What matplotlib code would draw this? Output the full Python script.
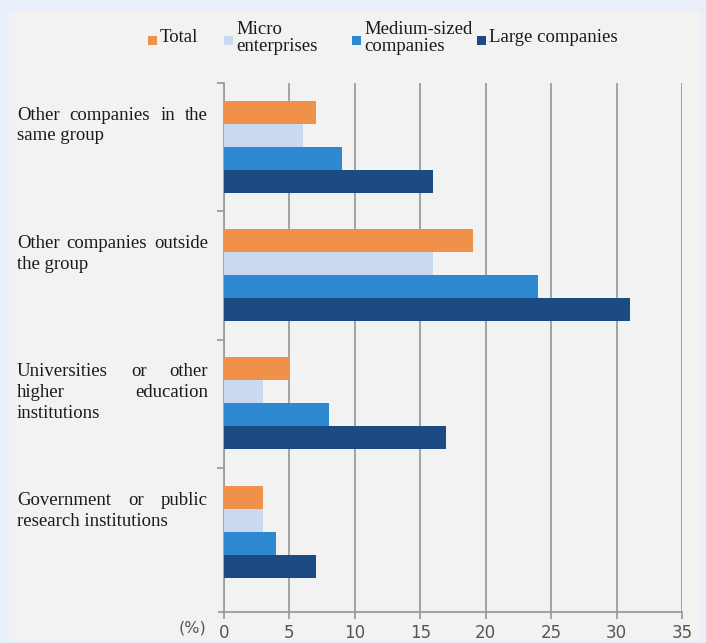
import numpy as np
import matplotlib
matplotlib.use("Agg")
import matplotlib.pyplot as plt
from matplotlib.patches import Rectangle

# data (percent)
categories = [
    ["Other companies in the", "same group"],
    ["Other companies outside", "the group"],
    ["Universities or other", "higher education", "institutions"],
    ["Government or public", "research institutions"],
]
series_names = ["Total", "Micro\nenterprises", "Medium-sized\ncompanies", "Large companies"]
total = [7, 19, 5, 3]
micro = [6, 16, 3, 3]
medium = [9, 24, 8, 4]
large = [16, 31, 17, 7]
xticks = [0, 5, 10, 15, 20, 25, 30, 35]

colors = ["#f0914a", "#c9d9ef", "#2f89d1", "#1c4a82"]

W, H = 706, 643
fig = plt.figure(figsize=(W / 100, H / 100), dpi=100)
fig.patch.set_facecolor("#e8effb")

    # grey inner panel, kept behind the axes
fig.patches.append(Rectangle((9 / W, 1 - 641 / H), 692 / W, 629 / H,
                             transform=fig.transFigure, facecolor="#f2f2f2",
                             edgecolor="none", zorder=-5))

serif = "Liberation Serif"
sans = ["DejaVu Sans Condensed", "Liberation Sans Narrow", "DejaVu Sans"]
fs = 13.5

def fx(px):
    return px / W

def fy(py):
    return 1 - py / H

ax = fig.add_axes([fx(224), fy(612), (682 - 224) / W, (612 - 83) / H])
ax.set_facecolor("none")

n = len(total)
bar_h = 0.179
start = 0.137
for k, vals in enumerate([total, micro, medium, large]):
    y = np.arange(n) + start + bar_h * (k + 0.5)
    ax.barh(y, vals, height=bar_h, color=colors[k], zorder=3)

ax.set_xlim(0, 35)
ax.set_ylim(4.12, 0)
ax.set_xticks(xticks)
ax.set_xticklabels([str(t) for t in xticks], family=sans, fontsize=12, color="#555555")
ax.set_yticks(range(n))
ax.set_yticklabels([])
ax.grid(axis="x", color="#9c9c9c", linewidth=1.3, zorder=1)
for s in ["top", "right"]:
    ax.spines[s].set_visible(False)
for s in ["left", "bottom"]:
    ax.spines[s].set_color("#9c9c9c")
    ax.spines[s].set_linewidth(1.3)
ax.spines["bottom"].set_bounds(-0.4, 35)
ax.tick_params(axis="x", length=5, width=1.3, color="#9c9c9c", pad=4)
ax.tick_params(axis="y", length=5, width=1.3, color="#9c9c9c")

fig.text(fx(193), fy(628), "(%)", family=sans, fontsize=11.5, color="#555555",
         ha="center", va="center")

    # justified category labels on the left
renderer = fig.canvas.get_renderer()
x0, x1 = 17, 208
for i, lines in enumerate(categories):
    top = 83 + i * 128.4
    for j, line in enumerate(lines):
        ypx = top + 32 + j * 21
        words = line.split()
        if j == len(lines) - 1 or len(words) == 1:
            fig.text(fx(x0), fy(ypx), line, family=serif, fontsize=fs,
                     color="#1a1a1a", va="center", ha="left")
            continue
        widths = []
        for w in words:
            t = fig.text(0, 0, w, family=serif, fontsize=fs)
            widths.append(t.get_window_extent(renderer).width)
            t.remove()
        gap = (x1 - x0 - sum(widths)) / (len(words) - 1)
        xp = x0
        for w, wd in zip(words, widths):
            fig.text(fx(xp), fy(ypx), w, family=serif, fontsize=fs,
                     color="#1a1a1a", va="center", ha="left")
            xp += wd + gap

    # legend along the top
legend_x = [148, 224, 352, 477]
for k, name in enumerate(series_names):
    fig.patches.append(Rectangle((fx(legend_x[k]), fy(45)), 9 / W, 9 / H,
                                 transform=fig.transFigure, facecolor=colors[k],
                                 edgecolor="none", zorder=2))
    fig.text(fx(legend_x[k] + 12), fy(38), name, family=serif, fontsize=fs,
             color="#1a1a1a", va="center", ha="left", linespacing=1.0)

fig.savefig("out.png", dpi=100, facecolor=fig.get_facecolor())
